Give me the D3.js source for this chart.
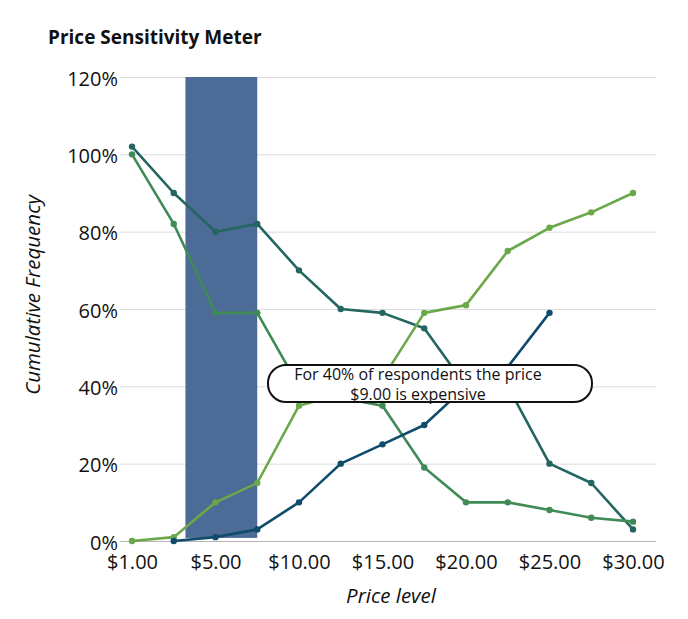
<!DOCTYPE html>
<html><head><meta charset="utf-8">
<script src="https://cdn.jsdelivr.net/npm/d3@7"></script>
<style>
body{margin:0;background:#fff;}
svg{display:block;font-family:"Open Sans",sans-serif;}
</style>
</head><body>
<svg id="chart" width="688" height="619"></svg>
<script>
// ---- data ----
const prices = [1, 2.5, 5, 7.5, 10, 12.5, 15, 17.5, 20, 22.5, 25, 27.5, 30];
const tickPrices = [1, 5, 10, 15, 20, 25, 30];
const yTicks = [0, 20, 40, 60, 80, 100, 120];
const notCheap      = [102, 90, 80, 82, 70, 60, 59, 55, 40, 40, 20, 15, 3];
const notExpensive  = [100, 82, 59, 59, 40, 37, 35, 19, 10, 10, 8, 6, 5];
const expensive     = [0, 1, 10, 15, 35, 38, 42, 59, 61, 75, 81, 85, 90];
const tooExpensive  = [null, 0, 1, 3, 10, 20, 25, 30, 40, 45, 59, null, null];
const seriesNames   = ["Not cheap", "Not expensive", "Expensive", "Too expensive"];
const seriesColors  = ["#23655f", "#3f8a55", "#6aa84a", "#0f4c6c"];
const bandPrices    = [3.2, 7.5];
const bandPct       = [0.8, 120];
const annotationLines = ["For 40% of respondents the price", "$9.00 is expensive"];

(function () {
const svg = d3.select("#chart");
const L = 120, R = 656, T = 77, B = 541;

const xPoint = d3.scalePoint().domain(prices).range([132, 633]);
const x = d3.scaleLinear().domain(prices).range(prices.map(p => xPoint(p)));
const y = d3.scaleLinear().domain([0, 120]).range([B, T]);

// title
svg.append("text").attr("x", 48).attr("y", 44)
  .attr("font-size", 19).attr("font-weight", 700).attr("fill", "#111")
  .text("Price Sensitivity Meter");

// grid + y axis
const yAxis = svg.append("g").attr("transform", `translate(${L},0)`)
  .call(d3.axisLeft(y).tickValues(yTicks).tickFormat(d => d + "%")
    .tickSize(-(R - L)).tickPadding(2));
yAxis.select(".domain").remove();
yAxis.selectAll(".tick line").attr("stroke", d => d === 0 ? "#b5b5b5" : "#dcdcdc").attr("stroke-width", 1);
yAxis.selectAll(".tick text").attr("font-size", 20).attr("fill", "#111")
  .attr("font-family", "'Open Sans', sans-serif").attr("dy", "0.4em");

// x axis
const xAxis = svg.append("g").attr("transform", `translate(0,${B})`)
  .call(d3.axisBottom(x).tickValues(tickPrices).tickFormat(d3.format("$.2f"))
    .tickSize(0).tickPadding(14));
xAxis.select(".domain").remove();
xAxis.selectAll(".tick text").attr("font-size", 20).attr("fill", "#111")
  .attr("font-family", "'Open Sans', sans-serif");

// band
svg.append("rect")
  .attr("x", x(bandPrices[0])).attr("y", y(bandPct[1]))
  .attr("width", x(bandPrices[1]) - x(bandPrices[0]))
  .attr("height", y(bandPct[0]) - y(bandPct[1]))
  .attr("fill", "#4c6b97");

// series
const allSeries = [notCheap, notExpensive, expensive, tooExpensive];
const line = d3.line().defined(d => d.v != null).x(d => x(d.p)).y(d => y(d.v));
allSeries.forEach((vals, i) => {
  const pts = prices.map((p, j) => ({p, v: vals[j]}));
  const g = svg.append("g").attr("class", "series").attr("data-name", seriesNames[i]);
  g.append("path").datum(pts).attr("d", line).attr("fill", "none")
    .attr("stroke", seriesColors[i]).attr("stroke-width", 2.6).attr("stroke-linejoin", "round");
  g.selectAll("circle").data(pts.filter(d => d.v != null)).join("circle")
    .attr("cx", d => x(d.p)).attr("cy", d => y(d.v)).attr("r", 3.2)
    .attr("fill", seriesColors[i]);
});

// axis titles
svg.append("text").attr("transform", `translate(40,295) rotate(-90)`)
  .attr("text-anchor", "middle").attr("font-size", 20.5).attr("font-style", "italic").attr("fill", "#111")
  .text("Cumulative Frequency");
svg.append("text").attr("x", 391).attr("y", 603)
  .attr("text-anchor", "middle").attr("font-size", 20.5).attr("font-style", "italic").attr("fill", "#111")
  .text("Price level");

// annotation
const ann = svg.append("g");
ann.append("rect").attr("x", 268).attr("y", 365).attr("width", 324).attr("height", 37)
  .attr("rx", 18).attr("fill", "#fff").attr("stroke", "#111").attr("stroke-width", 2);
ann.selectAll("text").data(annotationLines).join("text")
  .attr("x", 418).attr("y", (d, i) => 380 + i * 20)
  .attr("text-anchor", "middle").attr("font-size", 16).attr("fill", "#111")
  .text(d => d);
})();
</script>
</body></html>
